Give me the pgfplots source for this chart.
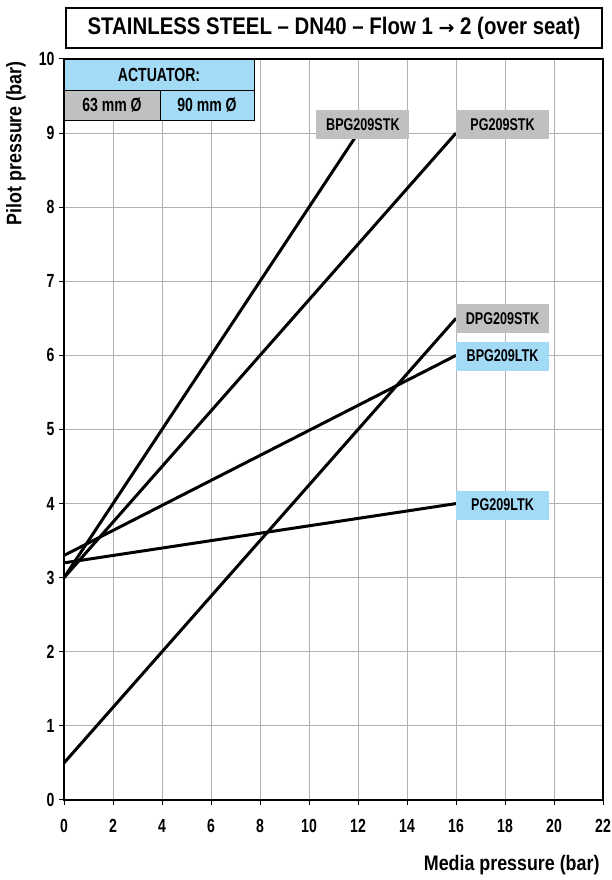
\documentclass[border=0pt]{standalone}
\usepackage{fontspec}
\setmainfont{Liberation Sans}[FakeStretch=0.85]
\newfontfamily\narrowfont{Liberation Sans}[FakeStretch=0.74]
\newfontfamily\symfont{DejaVu Sans}
\usepackage{pgfplots}
\pgfplotsset{compat=1.18}
\definecolor{lblue}{HTML}{A3DBF7}
\definecolor{lgray}{HTML}{C0C0C0}
\tikzset{label box/.style={font=\narrowfont\bfseries\fontsize{17}{17}\selectfont, minimum width=93pt, minimum height=29pt, inner sep=0pt}}
\begin{document}
\begin{tikzpicture}
\useasboundingbox (0pt,0pt) rectangle (611pt,880pt);
\begin{axis}[at={(64pt,80pt)}, anchor=south west, scale only axis,
  width=539pt, height=741pt,
  xmin=0, xmax=22, ymin=0, ymax=10,
  xtick={0,2,...,22}, ytick={0,1,...,10},
  grid=major, major grid style={black!30, line width=1pt},
  axis line style={black, line width=1.5pt},
  tick align=outside, major tick length=5pt,
  tick style={black, line width=1pt},
  xtick pos=lower, ytick pos=left,
  ticklabel style={font=\narrowfont\bfseries\fontsize{19}{19}\selectfont},
  /pgf/number format/assume math mode=true,
  xticklabel style={yshift=-11pt},
  yticklabel style={xshift=-1pt},
]
\addplot[black, line width=3pt] coordinates {(0,3) (12,9)};
\addplot[black, line width=3pt] coordinates {(0,3) (16,9)};
\addplot[black, line width=3pt] coordinates {(0,0.5) (16,6.5)};
\addplot[black, line width=3pt] coordinates {(0,3.3) (16,6)};
\addplot[black, line width=3pt] coordinates {(0,3.2) (16,4)};
\node[label box, fill=lgray] at (axis cs:12.2,9.12) {BPG209STK};
\node[label box, fill=lgray] at (axis cs:17.9,9.12) {PG209STK};
\node[label box, fill=lgray] at (axis cs:17.9,6.5) {DPG209STK};
\node[label box, fill=lblue] at (axis cs:17.9,5.99) {BPG209LTK};
\node[label box, fill=lblue] at (axis cs:17.9,3.98) {PG209LTK};
\end{axis}
% actuator table
\fill[lblue] (64pt,790pt) rectangle (254pt,820pt);
\fill[lgray] (64pt,760pt) rectangle (160pt,790pt);
\fill[lblue] (160pt,760pt) rectangle (254pt,790pt);
\draw[black, line width=0.8pt] (64pt,760pt) rectangle (254pt,821pt);
\draw[black, line width=0.8pt] (64pt,790pt) -- (254pt,790pt);
\draw[black, line width=0.8pt] (160pt,760pt) -- (160pt,790pt);
\draw[black, line width=1.5pt] (64pt,821pt) -- (254pt,821pt);
\node[font=\narrowfont\bfseries\fontsize{19}{19}\selectfont] at (159pt,805pt) {ACTUATOR:};
\node[font=\narrowfont\bfseries\fontsize{19}{19}\selectfont] at (112pt,775pt) {63 mm Ø};
\node[font=\narrowfont\bfseries\fontsize{19}{19}\selectfont] at (207pt,775pt) {90 mm Ø};
% title
\draw[black, line width=1.2pt] (66pt,832pt) rectangle (602pt,872pt);
\node[font=\bfseries\fontsize{24}{24}\selectfont] at (334pt,852pt) {STAINLESS STEEL – DN40 – Flow 1 {\symfont\fontsize{19}{19}\selectfont →} 2 (over seat)};
% axis labels
\node[rotate=90, anchor=east, font=\bfseries\fontsize{21}{21}\selectfont] at (16pt,822pt) {Pilot pressure (bar)};
\node[anchor=east, font=\bfseries\fontsize{21}{21}\selectfont] at (603pt,15pt) {Media pressure (bar)};
\end{tikzpicture}
\end{document}
